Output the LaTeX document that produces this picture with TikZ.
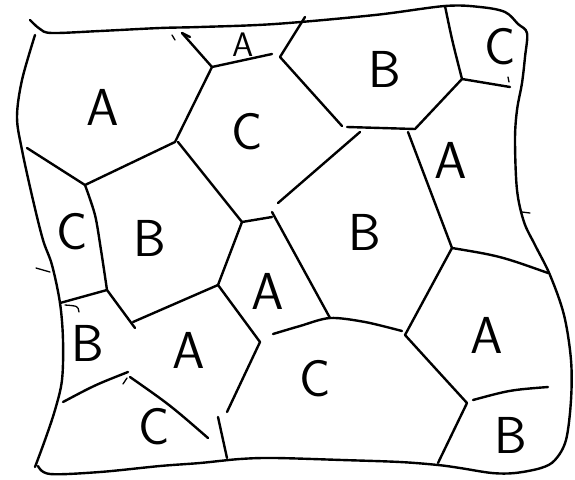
\documentclass[tikz,border=0pt]{standalone}
\begin{document}
\begin{tikzpicture}[x=1pt,y=-1pt,line width=2.4pt,line cap=round,line join=round,
  lab/.style={font=\sffamily\fontsize{52}{52}\selectfont,inner sep=0pt,anchor=center},
  smalllab/.style={font=\sffamily\fontsize{34}{34}\selectfont,inner sep=0pt,anchor=center},
  penmark/.style={line width=1.3pt}]
\useasboundingbox (0,0) rectangle (575,479);
% outer border
\draw plot[smooth,tension=0.55] coordinates {(30,20) (40,29) (52,33) (100,31) (160,28) (200,27) (275,24) (375,15) (445,6) (480,7) (505,12) (518,24) (527,33) (525,57) (522,83) (517,110) (515,140) (517,190) (524,222) (535,245) (550,275) (564,315) (571,360) (571,400) (566,440) (555,460) (541,468) (515,473) (492,473) (460,468) (438,465) (400,462) (342,460) (275,458) (240,459) (200,463) (160,466) (100,472) (50,474) (38,466)};
\draw plot[smooth,tension=0.55] coordinates {(35,35) (22,80) (17,117) (22,150) (33,200) (43,240) (52,265) (60,303) (63,340) (62,380) (55,410) (45,440) (35,467)};
% vertices
\coordinate (v1) at (182,33);
\coordinate (v2) at (212,67);
\coordinate (v3) at (272,54);
\coordinate (v4) at (305,17);
\coordinate (v5) at (280,57);
\coordinate (v6) at (342,126);
\coordinate (v7) at (347,127);
\coordinate (v8) at (415,129);
\coordinate (v9) at (462,79);
\coordinate (v10) at (445,6);
\coordinate (v11) at (510,87);
\coordinate (v12) at (408,132);
\coordinate (v13) at (452,248);
\coordinate (v14) at (548,273);
\coordinate (v15) at (405,335);
\coordinate (v16) at (467,403);
\coordinate (v17) at (438,463);
\coordinate (v18) at (473,400);
\coordinate (v19) at (548,387);
\coordinate (v20) at (272,212);
\coordinate (v21) at (330,318);
\coordinate (v22) at (278,203);
\coordinate (v23) at (360,132);
\coordinate (v24) at (175,142);
\coordinate (v25) at (27,148);
\coordinate (v26) at (85,185);
\coordinate (v27) at (178,142);
\coordinate (v28) at (242,222);
\coordinate (v29) at (272,217);
\coordinate (v30) at (107,290);
\coordinate (v31) at (60,303);
\coordinate (v32) at (135,328);
\coordinate (v33) at (133,322);
\coordinate (v34) at (218,285);
\coordinate (v35) at (260,342);
\coordinate (v36) at (227,412);
\coordinate (v37) at (218,417);
\coordinate (v38) at (227,458);
\coordinate (v39) at (63,402);
\coordinate (v40) at (128,372);
\coordinate (v41) at (130,377);
\coordinate (v42) at (208,438);
\coordinate (v43) at (273,334);
\coordinate (v44) at (402,331);
% inner lines
\draw (v1) -- (v2) -- (v3);
\draw (v1) -- (190,37);
\draw (v4) -- (v5) -- (v6);
\draw (v7) -- (v8) -- (v9);
\draw (v10) .. controls (452,40) .. (v9);
\draw (v9) -- (v11);
\draw (v12) -- (v13);
\draw (v13) .. controls (500,256) .. (v14);
\draw (v13) -- (v15) .. controls (435,368) .. (v16);
\draw (v16) -- (v17);
\draw (v18) .. controls (510,390) .. (v19);
\draw plot[smooth] coordinates {(v43) (300,326) (v21) (365,322) (v44)};
\draw (v20) -- (v21);
\draw (v22) -- (v23);
\draw (v2) -- (v24);
\draw (v25) -- (v26) -- (v24);
\draw (v27) -- (v28) -- (v29);
\draw plot[smooth] coordinates {(v26) (95,215) (101,250) (v30)};
\draw (v31) -- (v30) -- (v32);
\draw (v33) -- (v34) -- (v28);
\draw (v34) -- (v35) -- (v36);
\draw (v37) -- (v38);
\draw (v39) .. controls (95,385) .. (v40);
\draw (v41) .. controls (170,405) .. (v42);
% small pen marks
\draw[penmark] (172,35) -- (175,40);
\draw[penmark] (65,305) .. controls (78,306) .. (79,312);
\draw[penmark] (123,384) -- (127,378);
\draw[penmark] (508,77) -- (509,82);
\draw[penmark] (522,212) -- (530,213);
\draw[penmark] (36,268) -- (50,272);
% labels
\node[lab] (a1) at (103,107) {A};
\node[smalllab] (a2) at (243,45) {A};
\node[lab] (b1) at (385,69) {B};
\node[lab] (c1) at (500,47) {C};
\node[lab] (c2) at (247,132) {C};
\node[lab] (a3) at (451,160) {A};
\node[lab] (c3) at (72,232) {C};
\node[lab] (b2) at (150,238) {B};
\node[lab] (b3) at (365,232) {B};
\node[lab] (a4) at (268,291) {A};
\node[lab] (b4) at (88,343) {B};
\node[lab] (a5) at (189,350) {A};
\node[lab] (c4) at (315,379) {C};
\node[lab] (a6) at (487,335) {A};
\node[lab] (c5) at (154,427) {C};
\node[lab] (b5) at (511,435) {B};
\end{tikzpicture}
\end{document}
